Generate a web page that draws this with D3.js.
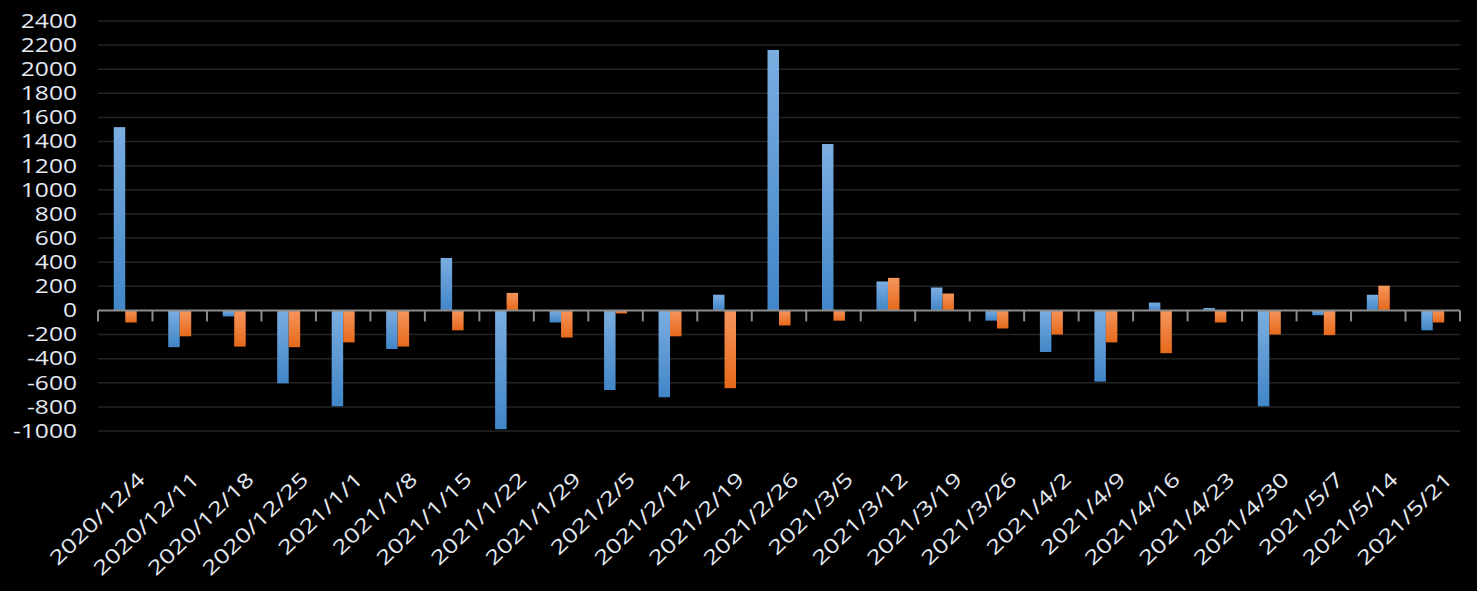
<!DOCTYPE html>
<html><head><meta charset="utf-8">
<script src="https://cdn.jsdelivr.net/npm/d3@7"></script>
<style>html,body{margin:0;padding:0;background:#000;}svg{display:block;}</style>
</head><body>
<svg id="chart" width="1477" height="591"></svg>
<script>
const categories = ["2020/12/4","2020/12/11","2020/12/18","2020/12/25","2021/1/1","2021/1/8","2021/1/15","2021/1/22","2021/1/29","2021/2/5","2021/2/12","2021/2/19","2021/2/26","2021/3/5","2021/3/12","2021/3/19","2021/3/26","2021/4/2","2021/4/9","2021/4/16","2021/4/23","2021/4/30","2021/5/7","2021/5/14","2021/5/21"];
const seriesBlue = [1520,-305,-50,-605,-795,-320,435,-985,-100,-660,-720,130,2160,1380,240,190,-85,-345,-590,65,20,-795,-40,130,-165];
const seriesOrange = [-100,-215,-300,-305,-265,-300,-165,145,-225,-25,-215,-645,-125,-85,270,140,-150,-200,-265,-355,-100,-200,-205,205,-100];
const yTicks = [-1000,-800,-600,-400,-200,0,200,400,600,800,1000,1200,1400,1600,1800,2000,2200,2400];

const svg = d3.select("#chart");
const W = 1477, H = 591;
svg.append("rect").attr("width", W).attr("height", H).attr("fill", "#000");

const x0 = 98, x1 = 1460, yTop = 21, yBot = 431;
const x = d3.scaleBand().domain(categories).range([x0, x1]).paddingInner(0).paddingOuter(0);
const y = d3.scaleLinear().domain([-1000, 2400]).range([yBot, yTop]);
const barW = x.bandwidth() * 0.211;

const defs = svg.append("defs");
function grad(id, c1, c2) {
  const g = defs.append("linearGradient").attr("id", id).attr("x1", 0).attr("y1", 0).attr("x2", 0).attr("y2", 1);
  g.append("stop").attr("offset", "0%").attr("stop-color", c1);
  g.append("stop").attr("offset", "100%").attr("stop-color", c2);
}
grad("gBlue", "#7badE0", "#4186C8");
grad("gOrange", "#F5955C", "#E6691A");

// gridlines
svg.append("g").selectAll("line").data(yTicks.filter(d => d !== 0)).join("line")
  .attr("x1", x0).attr("x2", x1).attr("y1", d => y(d)).attr("y2", d => y(d))
  .attr("stroke", "#242424").attr("stroke-width", 1.5);

// bars
const bars = svg.append("g");
bars.selectAll("rect.b").data(categories).join("rect").attr("class", "b")
  .attr("x", d => x(d) + x.bandwidth() / 2 - barW)
  .attr("width", barW)
  .attr("y", (d, i) => Math.min(y(seriesBlue[i]), y(0)))
  .attr("height", (d, i) => Math.abs(y(seriesBlue[i]) - y(0)))
  .attr("fill", "url(#gBlue)");
bars.selectAll("rect.o").data(categories).join("rect").attr("class", "o")
  .attr("x", d => x(d) + x.bandwidth() / 2)
  .attr("width", barW)
  .attr("y", (d, i) => Math.min(y(seriesOrange[i]), y(0)))
  .attr("height", (d, i) => Math.abs(y(seriesOrange[i]) - y(0)))
  .attr("fill", "url(#gOrange)");

// zero axis line + ticks
const axisG = svg.append("g");
axisG.append("line").attr("x1", x0).attr("x2", x1).attr("y1", y(0)).attr("y2", y(0))
  .attr("stroke", "#8c8c8c").attr("stroke-width", 2);
const bounds = categories.map(c => x(c)).concat([x1]);
axisG.selectAll("line.t").data(bounds).join("line").attr("class", "t")
  .attr("x1", d => d).attr("x2", d => d).attr("y1", y(0)).attr("y2", y(0) + 11)
  .attr("stroke", "#8c8c8c").attr("stroke-width", 2);

// y labels
const font = "'Open Sans', sans-serif";
svg.append("g").selectAll("text").data(yTicks).join("text")
  .attr("transform", d => `translate(77,${y(d)}) scale(1.26,1)`)
  .attr("text-anchor", "end").attr("dy", "0.35em")
  .attr("font-family", font).attr("font-size", 19.5).attr("fill", "#e4eaf2")
  .text(d => d);

// x labels
svg.append("g").selectAll("text").data(categories).join("text")
  .attr("transform", d => `translate(${x(d) + x.bandwidth() / 2 + 21},481) rotate(-44) scale(1.3,1)`)
  .attr("text-anchor", "end")
  .attr("font-family", font).attr("font-size", 20).attr("fill", "#e4eaf2")
  .text(d => d);
</script>
</body></html>
